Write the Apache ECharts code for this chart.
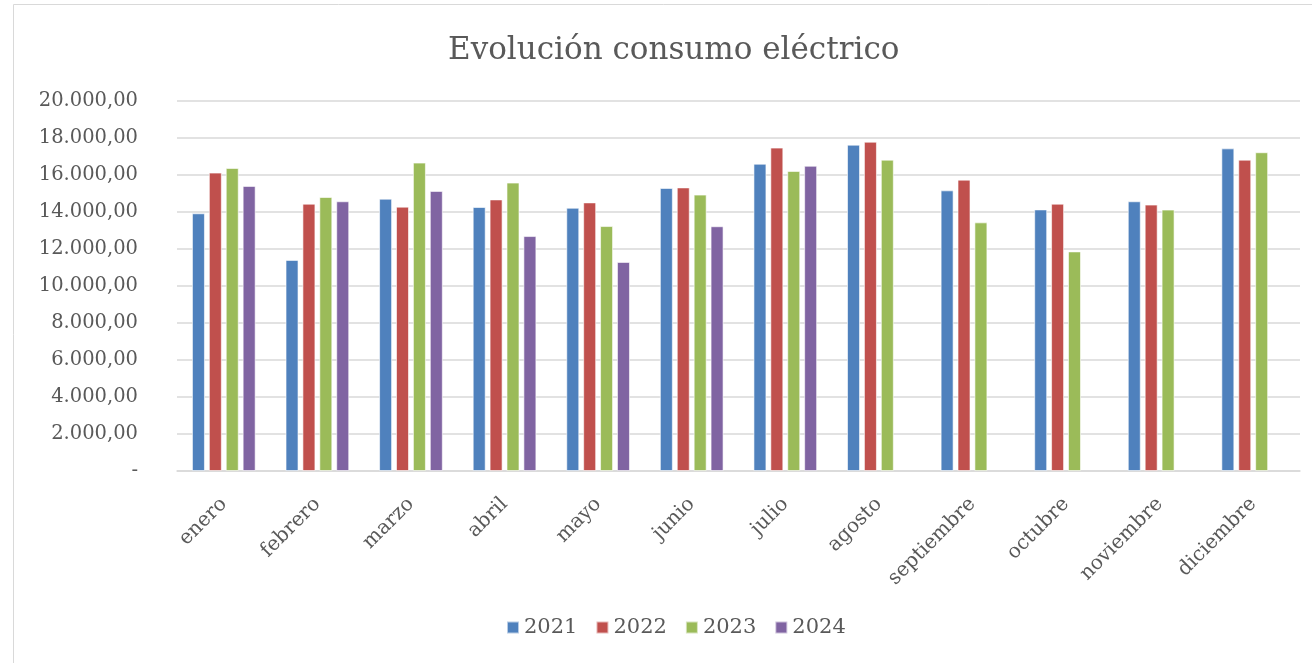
<!DOCTYPE html>
<html><head><meta charset="utf-8">
<script src="https://cdn.jsdelivr.net/npm/echarts@6/dist/echarts.min.js"></script>
<style>html,body{margin:0;padding:0;background:#fff}#c{width:1312px;height:663px}</style>
</head><body><div id="c"></div>
<script>
const categories = ['enero','febrero','marzo','abril','mayo','junio','julio','agosto','septiembre','octubre','noviembre','diciembre'];
const s2021 = [13930,11410,14720,14270,14230,15300,16610,17640,15170,14140,14580,17440];
const s2022 = [16130,14450,14290,14680,14520,15330,17480,17800,15750,14450,14400,16830];
const s2023 = [16380,14810,16670,15590,13240,14940,16220,16830,13440,11870,14130,17230];
const s2024 = [15410,14580,15140,12700,11300,13230,16500,null,null,null,null,null];
const seriesNames = ['2021','2022','2023','2024'];
const yTicks = [0,2000,4000,6000,8000,10000,12000,14000,16000,18000,20000];
const colors = ['#4F81BD','#C0504D','#9BBB59','#8064A2'];
const FONT = 'DejaVu Serif';
function fmt2(v){
  if (v === 0) return '-';
  const s = v.toFixed(2).split('.');
  return s[0].replace(/\B(?=(\d{3})+(?!\d))/g,'.') + ',' + s[1];
}
const chart = echarts.init(document.getElementById('c'));
const data = [s2021,s2022,s2023,s2024];
chart.setOption({
  animation:false,
  color: colors,
  graphic:[{type:'rect',shape:{x:13.5,y:4.5,width:1310,height:670},style:{fill:'none',stroke:'#D9D9D9',lineWidth:1}}],
  title:{text:'Evolución consumo eléctrico',left:443,top:30,textStyle:{fontFamily:FONT,fontWeight:'normal',fontSize:31,color:'#595959'}},
  legend:{bottom:20,left:501,itemWidth:12,itemHeight:12,itemGap:18,icon:'rect',textStyle:{fontFamily:FONT,fontSize:21,color:'#595959'},data:seriesNames},
  grid:{left:177,right:12,top:101,bottom:192},
  xAxis:{type:'category',data:categories,axisTick:{show:false},axisLine:{lineStyle:{color:'#D9D9D9',width:1.5}},
    axisLabel:{rotate:45,margin:30,fontFamily:FONT,fontSize:20,color:'#595959',interval:0}},
  yAxis:{type:'value',min:yTicks[0],max:yTicks[yTicks.length-1],interval:2000,
    axisLabel:{formatter:fmt2,margin:39,fontFamily:FONT,fontSize:19.5,color:'#595959'},
    axisLine:{show:false},axisTick:{show:false},
    splitLine:{lineStyle:{color:'#D9D9D9',width:1.5}}},
  series: seriesNames.map((n,i)=>({name:n,type:'bar',data:data[i],barWidth:13,barGap:'30%',barCategoryGap:'31%',
    itemStyle:{borderColor:'rgba(255,255,255,0.6)',borderWidth:1}}))
});
</script></body></html>
